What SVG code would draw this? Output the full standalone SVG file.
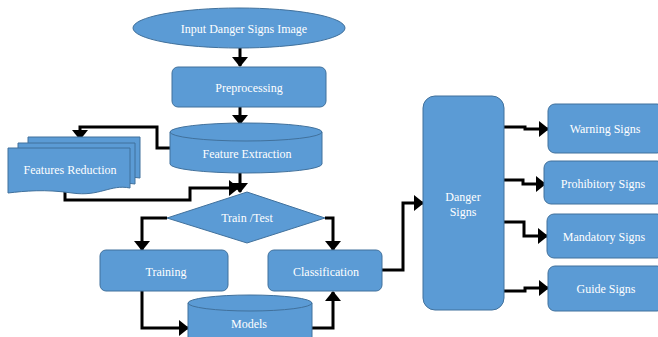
<svg xmlns="http://www.w3.org/2000/svg" width="658" height="337" viewBox="0 0 658 337">
<style>
.s{fill:#5b9bd5;stroke:#41719c;stroke-width:1}
.t{font-family:"Liberation Serif","Times New Roman",serif;font-size:12px;fill:#ffffff;text-anchor:middle;dominant-baseline:central}
.c{fill:none;stroke:#000;stroke-width:3;stroke-linejoin:miter}
.e{fill:none;stroke:#41719c;stroke-width:1}
</style>
<defs>
<marker id="ah" viewBox="0 0 10 16" refX="9" refY="8" markerWidth="3.4" markerHeight="5.4" orient="auto" markerUnits="strokeWidth">
<path d="M0,0 L10,8 L0,16 Z" fill="#000"/>
</marker>
</defs>
<rect width="658" height="337" fill="#fff"/>
<g id="connectors">
<path class="c" d="M240,48 V66" marker-end="url(#ah)"/>
<path class="c" d="M240,107 V124" marker-end="url(#ah)"/>
<path class="c" d="M170,148 H157 V127 H80 V139" marker-end="url(#ah)"/>
<path class="c" d="M240,173 V192" marker-end="url(#ah)"/>
<path class="c" d="M65,190 V200 H190 V188 H238" marker-end="url(#ah)"/>
<path class="c" d="M167,218 H142 V250" marker-end="url(#ah)"/>
<path class="c" d="M325,218 H333 V250" marker-end="url(#ah)"/>
<path class="c" d="M142,291 V328 H188" marker-end="url(#ah)"/>
<path class="c" d="M312,328 H333 V292" marker-end="url(#ah)"/>
<path class="c" d="M382,270 H403 V203 H423" marker-end="url(#ah)"/>
<path class="c" d="M504,127 H525 V129 H548" marker-end="url(#ah)"/>
<path class="c" d="M504,180 H523 V184 H545" marker-end="url(#ah)"/>
<path class="c" d="M504,222 H524 V236 H547" marker-end="url(#ah)"/>
<path class="c" d="M504,291 H525 V288 H548" marker-end="url(#ah)"/>
</g>
<g id="input">
<ellipse class="s" cx="239" cy="28" rx="106" ry="20"/>
<text class="t" x="244" y="29">Input Danger Signs Image</text>
</g>
<g id="preprocessing">
<rect class="s" x="172" y="67" width="154" height="40" rx="6"/>
<text class="t" x="249" y="88">Preprocessing</text>
</g>
<g id="feature-extraction">
<path class="s" d="M170,132 A76,9 0 0 1 322,132 V164 A76,9 0 0 1 170,164 Z"/>
<path class="e" d="M170,132 A76,9 0 0 0 322,132"/>
<text class="t" x="247" y="154">Feature Extraction</text>
</g>
<g id="features-reduction">
<path class="s" d="M28,137 H140 V178 C120,174 110,186 84,182 C60,178 45,181 28,183 Z"/>
<path class="s" d="M18,143 H135 V184 C115,180 105,192 79,188 C55,184 35,187 18,189 Z"/>
<path class="s" d="M8,148 H130 V188 C110,184 100,197 72,193 C45,189 25,191 8,193 Z"/>
<text class="t" x="70" y="170">Features Reduction</text>
</g>
<g id="train-test">
<path class="s" d="M247,192 L325,218 L247,243 L167,218 Z"/>
<text class="t" x="247" y="218">Train /Test</text>
</g>
<g id="training">
<rect class="s" x="100" y="250" width="128" height="41" rx="6"/>
<text class="t" x="166" y="272">Training</text>
</g>
<g id="classification">
<rect class="s" x="268" y="250" width="114" height="41" rx="6"/>
<text class="t" x="326" y="272">Classification</text>
</g>
<g id="models">
<path class="s" d="M188,303 A62,8 0 0 1 312,303 V345 H188 Z"/>
<path class="e" d="M188,303 A62,8 0 0 0 312,303"/>
<text class="t" x="249" y="324">Models</text>
</g>
<g id="danger-signs">
<rect class="s" x="423" y="96" width="81" height="214" rx="12"/>
<text class="t" x="463" y="197">Danger</text>
<text class="t" x="463" y="212">Signs</text>
</g>
<g id="warning-signs">
<rect class="s" x="548" y="104" width="116" height="49" rx="7"/>
<text class="t" x="605" y="129">Warning Signs</text>
</g>
<g id="prohibitory-signs">
<rect class="s" x="544" y="161" width="120" height="43" rx="7"/>
<text class="t" x="603" y="184">Prohibitory Signs</text>
</g>
<g id="mandatory-signs">
<rect class="s" x="547" y="214" width="117" height="44" rx="7"/>
<text class="t" x="604" y="237">Mandatory Signs</text>
</g>
<g id="guide-signs">
<rect class="s" x="548" y="266" width="116" height="45" rx="7"/>
<text class="t" x="606" y="289">Guide Signs</text>
</g>
</svg>
